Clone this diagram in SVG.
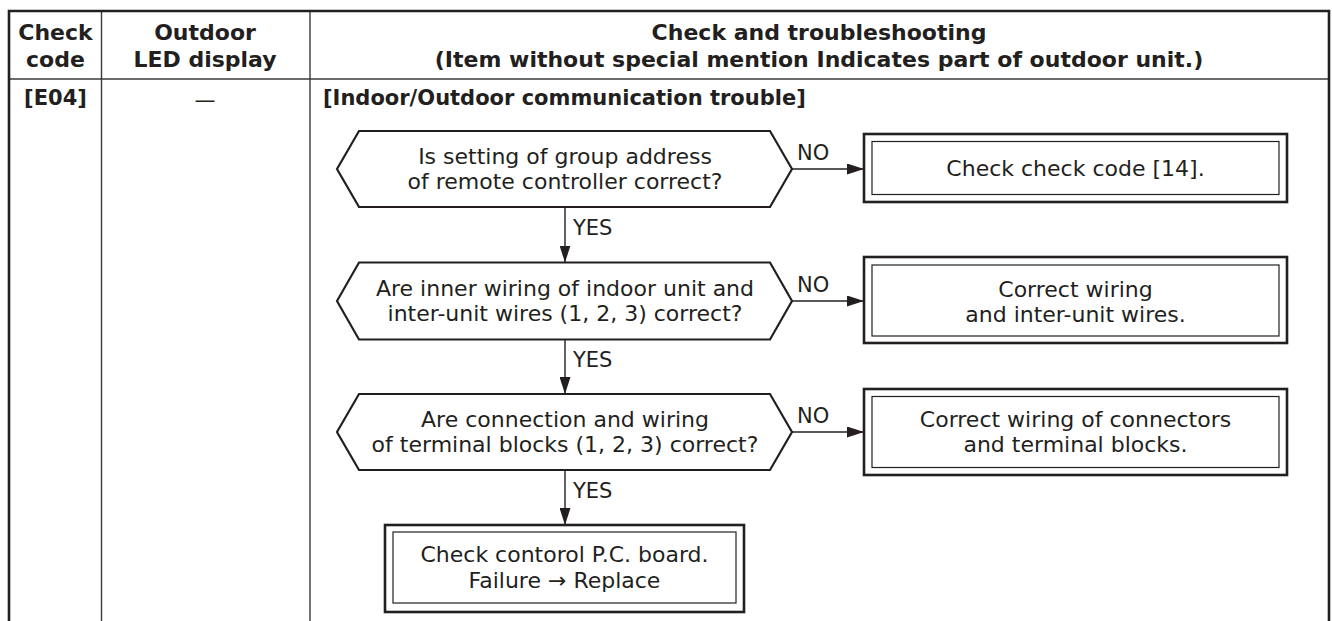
<svg xmlns="http://www.w3.org/2000/svg" width="1332" height="621" viewBox="0 0 1332 621">
<style>
  .bg{fill:#ffffff}
  .frame{stroke:#231f20;stroke-width:2.6;fill:none}
  .grid{stroke:#3a3a3a;stroke-width:1.4;fill:none}
  .hd{font-family:"DejaVu Sans",sans-serif;font-weight:bold;font-size:22px;fill:#231f20;text-anchor:middle}
  .rw{font-family:"DejaVu Sans",sans-serif;font-weight:bold;font-size:21px;fill:#231f20}
  .tx{font-family:"DejaVu Sans",sans-serif;font-size:22px;fill:#231f20;text-anchor:middle}
  .lb{font-family:"DejaVu Sans",sans-serif;font-size:21px;fill:#231f20}
  .hex{fill:#ffffff;stroke:#231f20;stroke-width:2.2;stroke-linejoin:miter}
  .bo{fill:#ffffff;stroke:#231f20;stroke-width:2.6}
  .bi{fill:none;stroke:#231f20;stroke-width:1.2}
  .cn{stroke:#231f20;stroke-width:1.4;fill:none;marker-end:url(#ah)}
</style>
<defs>
  <marker id="ah" markerUnits="userSpaceOnUse" markerWidth="17" markerHeight="11" refX="17" refY="5.5" orient="auto">
    <path d="M0,0 L17,5.5 L0,11 z" fill="#231f20"/>
  </marker>
</defs>
<rect class="bg" x="0" y="0" width="1332" height="621"/>

<g id="table">
  <line class="grid" x1="9" y1="79" x2="1329" y2="79"/>
  <line class="grid" x1="101.5" y1="11" x2="101.5" y2="621"/>
  <line class="grid" x1="310" y1="11" x2="310" y2="621"/>
  <path class="frame" d="M9,621 V11 H1329 V621"/>
  <text class="hd" x="55.5" y="40">Check</text>
  <text class="hd" x="55.5" y="67">code</text>
  <text class="hd" x="205" y="40">Outdoor</text>
  <text class="hd" x="205" y="67">LED display</text>
  <text class="hd" x="819" y="40">Check and troubleshooting</text>
  <text class="hd" x="819" y="67">(Item without special mention Indicates part of outdoor unit.)</text>
  <text class="rw" x="55.5" y="105" text-anchor="middle">[E04]</text>
  <text class="lb" x="205" y="107" text-anchor="middle">—</text>
  <text class="rw" x="323" y="105">[Indoor/Outdoor communication trouble]</text>
</g>

<g id="connectors">
  <line class="cn" x1="565" y1="207" x2="565" y2="262.5"/>
  <line class="cn" x1="565" y1="339.5" x2="565" y2="394"/>
  <line class="cn" x1="565" y1="470" x2="565" y2="525"/>
  <line class="cn" x1="792" y1="169" x2="864" y2="169"/>
  <line class="cn" x1="792" y1="301" x2="864" y2="301"/>
  <line class="cn" x1="792" y1="432" x2="864" y2="432"/>
  <text class="lb" x="573" y="235">YES</text>
  <text class="lb" x="573" y="367">YES</text>
  <text class="lb" x="573" y="498">YES</text>
  <text class="lb" x="797" y="160">NO</text>
  <text class="lb" x="797" y="292">NO</text>
  <text class="lb" x="797" y="423">NO</text>
</g>

<g id="q1">
  <polygon class="hex" points="337,169 359,131 770,131 792,169 770,207 359,207"/>
  <text class="tx" x="565" y="164">Is setting of group address</text>
  <text class="tx" x="565" y="189">of remote controller correct?</text>
</g>
<g id="q2">
  <polygon class="hex" points="337,301 359,262.5 770,262.5 792,301 770,339.5 359,339.5"/>
  <text class="tx" x="565" y="296">Are inner wiring of indoor unit and</text>
  <text class="tx" x="565" y="321">inter-unit wires (1, 2, 3) correct?</text>
</g>
<g id="q3">
  <polygon class="hex" points="337,432 359,394 770,394 792,432 770,470 359,470"/>
  <text class="tx" x="565" y="427">Are connection and wiring</text>
  <text class="tx" x="565" y="452">of terminal blocks (1, 2, 3) correct?</text>
</g>

<g id="a1">
  <rect class="bo" x="864" y="134" width="423" height="68"/>
  <rect class="bi" x="872" y="141.5" width="407" height="53"/>
  <text class="tx" x="1075.5" y="176">Check check code [14].</text>
</g>
<g id="a2">
  <rect class="bo" x="864" y="257" width="423" height="86"/>
  <rect class="bi" x="872" y="265" width="407" height="71"/>
  <text class="tx" x="1075.5" y="297">Correct wiring</text>
  <text class="tx" x="1075.5" y="322">and inter-unit wires.</text>
</g>
<g id="a3">
  <rect class="bo" x="864" y="389" width="423" height="86"/>
  <rect class="bi" x="872" y="396.5" width="407" height="71"/>
  <text class="tx" x="1075.5" y="427">Correct wiring of connectors</text>
  <text class="tx" x="1075.5" y="452">and terminal blocks.</text>
</g>
<g id="a4">
  <rect class="bo" x="385" y="525" width="359" height="87"/>
  <rect class="bi" x="393" y="532" width="343" height="71"/>
  <text class="tx" x="564.5" y="562">Check contorol P.C. board.</text>
  <text class="tx" x="564.5" y="588">Failure → Replace</text>
</g>
</svg>
